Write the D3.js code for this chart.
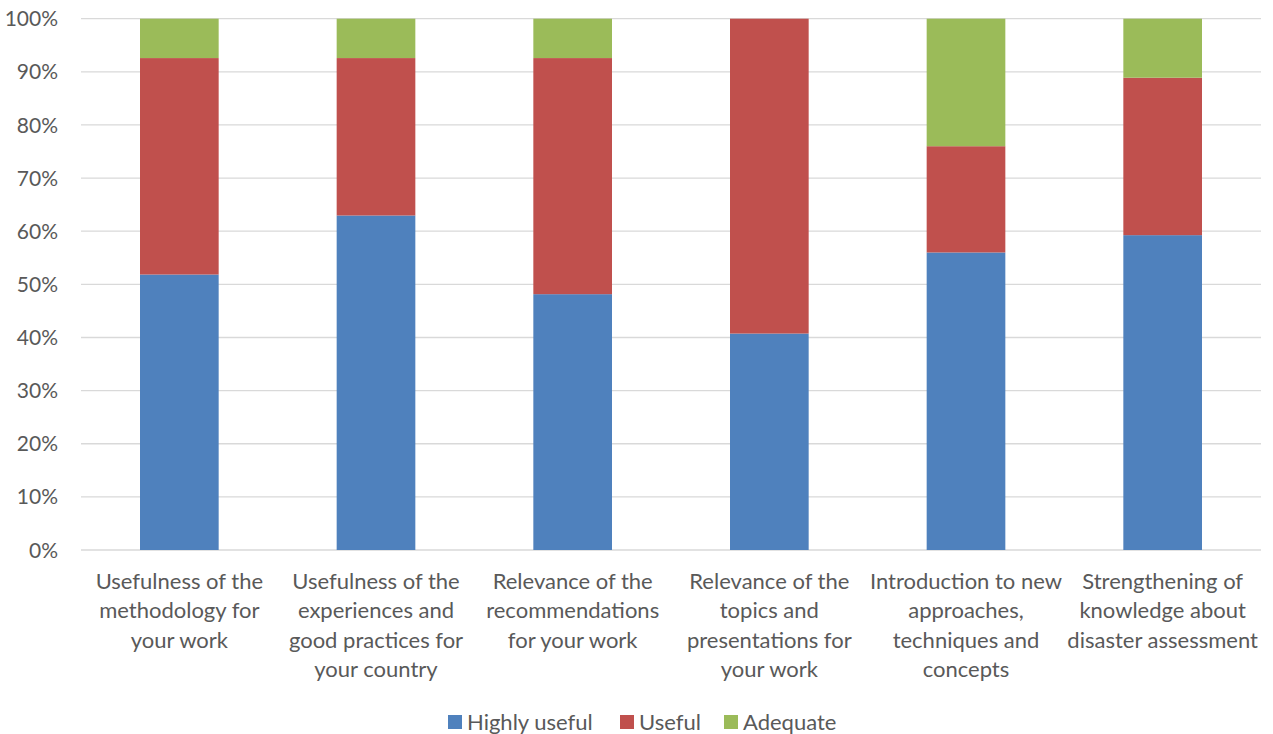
<!DOCTYPE html>
<html>
<head>
<meta charset="utf-8">
<script src="https://cdn.jsdelivr.net/npm/d3@7"></script>
<style>
	body { margin: 0; background: #fff; }
	text { font-family: Lato, "Open Sans", sans-serif; fill: #595959; }
</style>
</head>
<body>
<div id="chart"></div>
<script>
	var categories = [
		['Usefulness of the', 'methodology for', 'your work'],
		['Usefulness of the', 'experiences and', 'good practices for', 'your country'],
		['Relevance of the', 'recommendations', 'for your work'],
		['Relevance of the', 'topics and', 'presentations for', 'your work'],
		['Introduction to new', 'approaches,', 'techniques and', 'concepts'],
		['Strengthening of', 'knowledge about', 'disaster assessment']
	];
	var seriesNames = ['Highly useful', 'Useful', 'Adequate'];
	var highlyUseful = [51.85, 62.96, 48.15, 40.74, 56, 59.26];
	var useful = [40.74, 29.63, 44.44, 59.26, 20, 29.63];
	var adequate = [7.41, 7.41, 7.41, 0, 24, 11.11];
	var yTicks = [0, 10, 20, 30, 40, 50, 60, 70, 80, 90, 100];
	var colors = ['#4F81BD', '#C0504D', '#9BBB59'];

	(function() {
		var width = 1273, height = 734;
		var plotLeft = 81, plotRight = 1261, plotTop = 18.7, plotBottom = 550;

		var svg = d3.select('#chart').append('svg')
			.attr('width', width)
			.attr('height', height);

		var x = d3.scaleBand()
			.domain(d3.range(categories.length))
			.range([plotLeft, plotRight])
			.paddingInner(0.6)
			.paddingOuter(0.3);

		var y = d3.scaleLinear()
			.domain([0, 100])
			.range([plotBottom, plotTop]);

		// gridlines
		svg.append('g')
			.selectAll('line')
			.data(yTicks)
			.enter().append('line')
			.attr('x1', plotLeft)
			.attr('x2', plotRight)
			.attr('y1', function(d) { return y(d); })
			.attr('y2', function(d) { return y(d); })
			.style('stroke', '#D9D9D9')
			.style('stroke-width', 1.3);

		// y axis labels
		svg.append('g')
			.selectAll('text')
			.data(yTicks)
			.enter().append('text')
			.attr('x', 58)
			.attr('y', function(d) { return y(d); })
			.attr('dy', '0.36em')
			.attr('text-anchor', 'end')
			.style('font-size', '21px')
			.text(function(d) { return d + '%'; });

		var rows = categories.map(function(c, i) {
			return { i: i, 'Highly useful': highlyUseful[i], 'Useful': useful[i], 'Adequate': adequate[i] };
		});
		var stacked = d3.stack().keys(seriesNames)(rows);

		svg.append('g')
			.selectAll('g')
			.data(stacked)
			.enter().append('g')
			.style('fill', function(d, k) { return colors[k]; })
			.selectAll('rect')
			.data(function(d) { return d; })
			.enter().append('rect')
			.attr('x', function(d) { return x(d.data.i); })
			.attr('width', x.bandwidth())
			.attr('y', function(d) { return y(d[1]); })
			.attr('height', function(d) { return y(d[0]) - y(d[1]); });

		// category labels
		var cat = svg.append('g')
			.selectAll('text')
			.data(categories)
			.enter().append('text')
			.attr('text-anchor', 'middle')
			.style('font-size', '22px')
			.attr('transform', function(d, i) { return 'translate(' + (x(i) + x.bandwidth() / 2) + ',589)'; });

		cat.selectAll('tspan')
			.data(function(d) { return d; })
			.enter().append('tspan')
			.attr('x', 0)
			.attr('y', function(d, j) { return j * 29.3; })
			.text(function(d) { return d; });

		// legend
		var legendX = [448, 620, 724];
		var legend = svg.append('g')
			.selectAll('g')
			.data(seriesNames)
			.enter().append('g')
			.attr('transform', function(d, i) { return 'translate(' + legendX[i] + ',722)'; });

		legend.append('rect')
			.attr('x', 0)
			.attr('y', -7)
			.attr('width', 14)
			.attr('height', 14)
			.style('fill', function(d, i) { return colors[i]; });

		legend.append('text')
			.attr('x', 19)
			.attr('dy', '0.36em')
			.style('font-size', '22px')
			.text(function(d) { return d; });
	})();
</script>
</body>
</html>
